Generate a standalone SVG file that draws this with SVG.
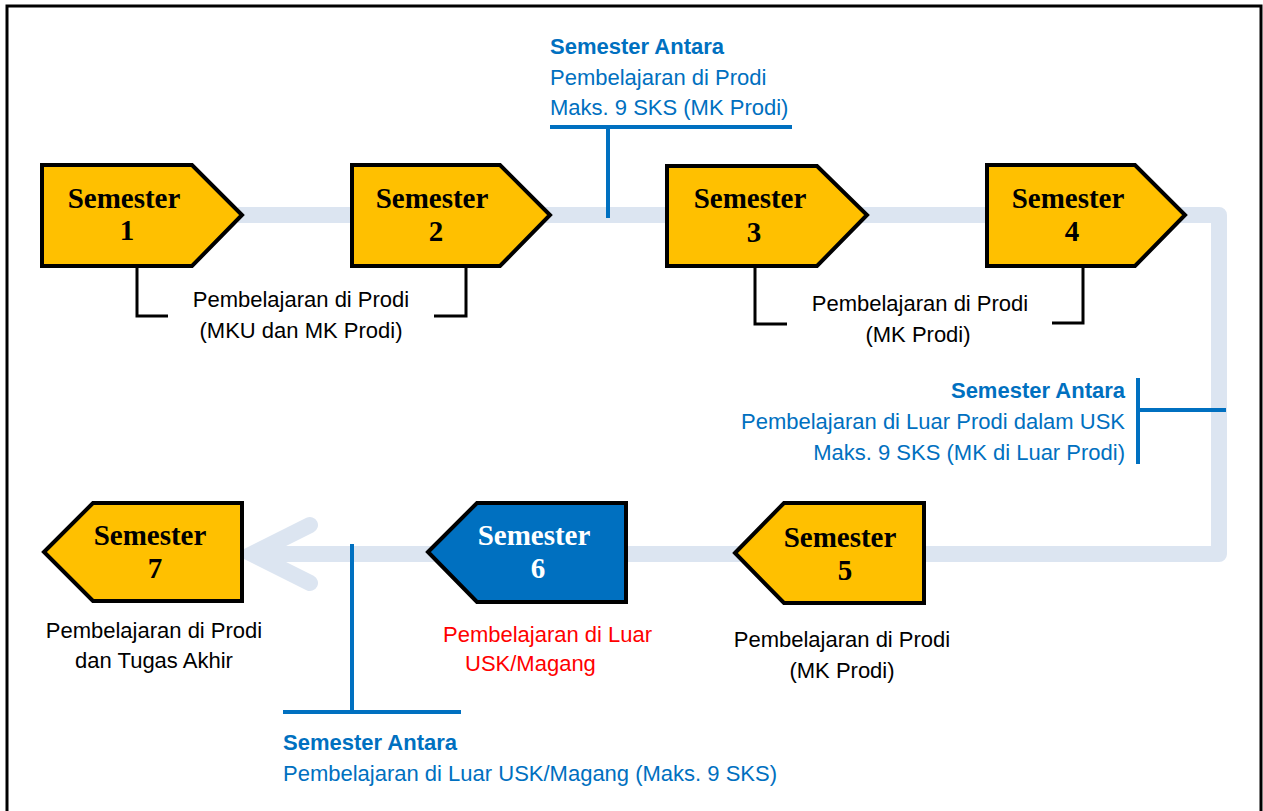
<svg xmlns="http://www.w3.org/2000/svg" width="1263" height="811" viewBox="0 0 1263 811">
<style>
.sem{fill:#FFC000;stroke:#000;stroke-width:4;stroke-linejoin:miter}
.semb{fill:#0070C0;stroke:#000;stroke-width:4}
.st{font-family:"Liberation Serif","Times New Roman",serif;font-weight:bold;font-size:29px;text-anchor:middle;fill:#000}
.lbl{font-family:"Liberation Sans",Arial,sans-serif;font-size:22px;fill:#000;text-anchor:middle}
.blue{font-family:"Liberation Sans",Arial,sans-serif;font-size:22px;fill:#0070C0}
.bb{font-weight:bold}
.brk{fill:none;stroke:#000;stroke-width:3}
.bl{fill:none;stroke:#0070C0;stroke-width:4}
.track{fill:none;stroke:#DCE5F1;stroke-width:16}
</style>
<rect x="0" y="0" width="1263" height="811" fill="#fff"/>
<rect x="7" y="6" width="1254" height="830" fill="none" stroke="#000" stroke-width="3"/>
<g id="connectors">
<path class="track" d="M238 215 H1219 V554 H252" stroke-linejoin="round"/>
<polyline class="track" points="310,525 252,554 310,583" stroke-linecap="round" stroke-linejoin="miter"/>
<path class="brk" d="M137 266 V316 H168"/>
<path class="brk" d="M466 257 V316 H434"/>
<path class="brk" d="M755 266 V324 H787"/>
<path class="brk" d="M1083 266 V323 H1052"/>
<path class="bl" d="M550 127 H792 M608 127 V218"/>
<path class="bl" d="M1138 378 V464 M1138 410 H1226"/>
<path class="bl" d="M283 712 H461 M352 544 V712"/>
</g>
<g id="sem1">
<polygon class="sem" points="42,165 192,165 242,215 192,266 42,266"/>
<text class="st" x="124" y="208">Semester</text>
<text class="st" x="127" y="240">1</text>
</g>
<g id="sem2">
<polygon class="sem" points="352,165 500,165 550,215 500,266 352,266"/>
<text class="st" x="432" y="208">Semester</text>
<text class="st" x="436" y="241">2</text>
</g>
<g id="sem3">
<polygon class="sem" points="667,166 817,166 867,215 817,266 667,266"/>
<text class="st" x="750" y="208">Semester</text>
<text class="st" x="754" y="242">3</text>
</g>
<g id="sem4">
<polygon class="sem" points="987,165 1135,165 1185,215 1135,266 987,266"/>
<text class="st" x="1068" y="208">Semester</text>
<text class="st" x="1072" y="241">4</text>
</g>
<g id="sem5">
<polygon class="sem" points="735,553 784,503 924,503 924,603 784,603"/>
<text class="st" x="840" y="547">Semester</text>
<text class="st" x="845" y="580">5</text>
</g>
<g id="sem6">
<polygon class="semb" points="428,552 477,503 626,503 626,602 477,602"/>
<text class="st" x="534" y="545" style="fill:#fff">Semester</text>
<text class="st" x="538" y="578" style="fill:#fff">6</text>
</g>
<g id="sem7">
<polygon class="sem" points="44,552 93,503 242,503 242,601 93,601"/>
<text class="st" x="150" y="545">Semester</text>
<text class="st" x="155" y="578">7</text>
</g>
<g id="label12">
<text class="lbl" x="301" y="307">Pembelajaran di Prodi</text>
<text class="lbl" x="301" y="338">(MKU dan MK Prodi)</text>
</g>
<g id="label34">
<text class="lbl" x="920" y="311">Pembelajaran di Prodi</text>
<text class="lbl" x="918" y="342">(MK Prodi)</text>
</g>
<g id="label5">
<text class="lbl" x="842" y="647">Pembelajaran di Prodi</text>
<text class="lbl" x="842" y="678">(MK Prodi)</text>
</g>
<g id="label6">
<text class="lbl" x="443" y="642" style="text-anchor:start;fill:#FF0000">Pembelajaran di Luar</text>
<text class="lbl" x="465" y="671" style="text-anchor:start;fill:#FF0000">USK/Magang</text>
</g>
<g id="label7">
<text class="lbl" x="154" y="638">Pembelajaran di Prodi</text>
<text class="lbl" x="154" y="668">dan Tugas Akhir</text>
</g>
<g id="antara1">
<text class="blue bb" x="550" y="54">Semester Antara</text>
<text class="blue" x="550" y="85">Pembelajaran di Prodi</text>
<text class="blue" x="550" y="115">Maks. 9 SKS (MK Prodi)</text>
</g>
<g id="antara2">
<text class="blue bb" x="1125" y="398" text-anchor="end">Semester Antara</text>
<text class="blue" x="1125" y="429" text-anchor="end">Pembelajaran di Luar Prodi dalam USK</text>
<text class="blue" x="1125" y="460" text-anchor="end">Maks. 9 SKS (MK di Luar Prodi)</text>
</g>
<g id="antara3">
<text class="blue bb" x="283" y="750">Semester Antara</text>
<text class="blue" x="283" y="781">Pembelajaran di Luar USK/Magang (Maks. 9 SKS)</text>
</g>
</svg>
